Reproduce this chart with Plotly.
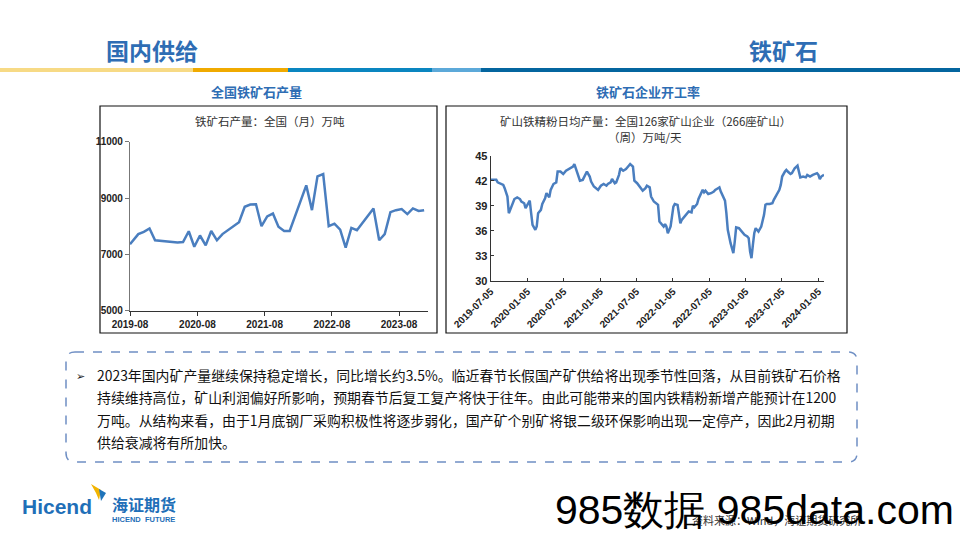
import plotly.graph_objects as go
import pandas as pd

W, H = 960, 540
def px(x): return x / W
def py(y): return 1 - y / H

# ---------------- data: left chart (monthly iron ore output, 万吨) ----------------
prod_dates = ["2019-08-01", "2019-09-15", "2019-10-15", "2019-11-15", "2019-12-15",
              "2020-03-15", "2020-04-15", "2020-05-15", "2020-06-15", "2020-07-15",
              "2020-08-15", "2020-09-15", "2020-10-15", "2020-11-15", "2020-12-15",
              "2021-03-15", "2021-04-15", "2021-05-15", "2021-06-15", "2021-07-15",
              "2021-08-15", "2021-09-15", "2021-10-15", "2021-11-15", "2021-12-15",
              "2022-03-15", "2022-04-15", "2022-05-15", "2022-06-15", "2022-07-15",
              "2022-08-15", "2022-09-15", "2022-10-15", "2022-11-15", "2022-12-15",
              "2023-03-15", "2023-04-15", "2023-05-15", "2023-06-15", "2023-07-15",
              "2023-08-15", "2023-09-15", "2023-10-15", "2023-11-15", "2023-12-15"]
prod_values = [7360, 7720, 7800, 7920, 7500,
               7450, 7420, 7440, 7820, 7270,
               7670, 7320, 7830, 7500, 7720,
               8140, 8690, 8770, 8780, 8000,
               8350, 8450, 7980, 7830, 7830,
               9450, 8570, 9770, 9850, 8000,
               8090, 7880, 7240, 7940, 7860,
               8630, 7500, 7720, 8500, 8570,
               8610, 8430, 8630, 8540, 8570]
prod_tickvals = ["2019-08-01", "2020-08-01", "2021-08-01", "2022-08-01", "2023-08-01"]
prod_ticktext = ["2019-08", "2020-08", "2021-08", "2022-08", "2023-08"]

# ---------------- data: right chart (weekly concentrate output, 万吨/天) ----------------
conc_start = "2019-07-05"
conc_weeks = [0, 3, 4, 5, 7, 9, 10, 12, 13, 15, 16, 17, 19, 21, 22, 24, 25, 27, 28, 29,
              30, 32, 33, 34, 36, 37, 39, 40, 42, 43, 45, 47, 48, 50, 52, 54, 56, 58, 59, 60,
              62, 64, 66, 68, 69, 71, 72, 74, 76, 77, 79, 81, 83, 84, 86, 87, 89, 90, 92, 93,
              95, 97, 99, 100, 102, 103, 105, 107, 109, 111, 112, 114, 115, 117, 119, 120, 121, 123, 124, 125,
              126, 127, 129, 131, 132, 134, 135, 136, 137, 139, 141, 142, 144, 145, 146, 148, 149, 151, 152, 153,
              154, 156, 158, 160, 161, 163, 164, 165, 166, 168, 169, 170, 172, 173, 174, 175, 176, 178, 179, 180,
              182, 184, 185, 186, 187, 188, 189, 190, 191, 192, 194, 195, 196, 197, 198, 200, 202, 203, 205, 207,
              208, 209, 211, 212, 213, 215, 216, 217, 218, 220, 221, 222, 224, 226, 227, 229, 231, 232, 234, 235,
              236, 237, 239]
conc_values = [42.1, 42.1, 42.1, 41.8, 41.6, 41.5, 41.1, 40.1, 38.1, 38.9, 39.5, 39.8, 40.0, 39.8, 39.5, 39.3, 38.7, 39.3, 39.6, 38.1,
               36.7, 36.1, 36.5, 38.1, 38.5, 39.2, 39.9, 40.5, 40.0, 40.9, 41.6, 41.8, 43.1, 43.1, 42.8, 43.2, 43.4, 43.5, 43.7, 44.0,
               43.1, 42.0, 42.1, 42.7, 43.1, 42.5, 41.9, 41.3, 41.0, 40.9, 41.4, 41.6, 41.4, 41.6, 41.8, 42.2, 41.7, 41.8, 42.7, 43.5,
               43.2, 43.4, 43.8, 44.0, 43.7, 42.0, 41.7, 41.3, 40.8, 41.1, 41.4, 41.2, 40.1, 39.5, 39.3, 39.1, 37.1, 36.7, 36.5, 36.8,
               36.5, 35.7, 36.5, 38.9, 39.2, 39.1, 37.7, 36.9, 37.3, 37.7, 38.1, 38.3, 38.2, 39.0, 38.8, 39.2, 39.8, 40.7, 40.9, 40.6,
               40.8, 40.4, 40.5, 40.7, 40.9, 41.1, 41.2, 40.7, 40.3, 39.6, 38.1, 36.1, 34.5, 33.7, 33.3, 34.7, 36.4, 36.3, 36.1, 35.8,
               35.5, 35.3, 35.1, 33.5, 32.7, 34.3, 35.7, 36.3, 36.1, 35.9, 36.5, 37.1, 37.9, 39.1, 39.2, 39.2, 39.3, 39.7, 40.3, 40.9,
               41.5, 42.5, 43.1, 43.3, 43.1, 42.8, 42.9, 43.2, 43.5, 43.8, 42.9, 42.4, 42.5, 42.4, 42.7, 42.5, 42.7, 42.8, 42.9, 42.7,
               42.2, 42.5, 42.7]
conc_dates = [pd.Timestamp(conc_start) + pd.Timedelta(weeks=w) for w in conc_weeks]
conc_tickvals = ["2019-07-05", "2020-01-05", "2020-07-05", "2021-01-05", "2021-07-05",
                 "2022-01-05", "2022-07-05", "2023-01-05", "2023-07-05", "2024-01-05"]

# ---------------- text ----------------
header_left = "国内供给"
header_right = "铁矿石"
sub_left = "全国铁矿石产量"
sub_right = "铁矿石企业开工率"
chart_left_title = "铁矿石产量：全国（月）万吨"
chart_right_title = ["矿山铁精粉日均产量：全国126家矿山企业（266座矿山）", "（周）万吨/天"]
body_lines = [
    "2023年国内矿产量继续保持稳定增长，同比增长约3.5%。临近春节长假国产矿供给将出现季节性回落，从目前铁矿石价格",
    "持续维持高位，矿山利润偏好所影响，预期春节后复工复产将快于往年。由此可能带来的国内铁精粉新增产能预计在1200",
    "万吨。从结构来看，由于1月底钢厂采购积极性将逐步弱化，国产矿个别矿将银二级环保影响出现一定停产，因此2月初期",
    "供给衰减将有所加快。",
]
source_text = "资料来源：Wind，海证期货研究所"
watermark = "985数据 985data.com"

LINE = "#4A7EBF"
BLUE_T = "#2E6DB4"
CJK = "Noto Sans CJK SC"
NUM = "Liberation Sans, Arial, sans-serif"

fig = go.Figure()
fig.add_trace(go.Scatter(x=prod_dates, y=prod_values, mode="lines",
                         line=dict(color=LINE, width=2.5), xaxis="x", yaxis="y",
                         showlegend=False, hoverinfo="skip"))
fig.add_trace(go.Scatter(x=conc_dates, y=conc_values, mode="lines",
                         line=dict(color=LINE, width=2.5), xaxis="x2", yaxis="y2",
                         showlegend=False, hoverinfo="skip"))

bold10 = dict(family=NUM, size=10, color="#222", weight="bold")
fig.update_layout(
    width=W, height=H, margin=dict(l=0, r=0, t=0, b=0, pad=0), autosize=False,
    paper_bgcolor="white", plot_bgcolor="rgba(0,0,0,0)",
    xaxis=dict(domain=[px(130), px(428)], type="date", range=["2019-08-01", "2024-01-05"],
               tickvals=prod_tickvals, ticktext=prod_ticktext, ticks="outside", ticklen=4,
               tickcolor="#333", showline=True, linecolor="#333", linewidth=1.2,
               showgrid=False, zeroline=False, tickfont=bold10, automargin=False, anchor="y"),
    yaxis=dict(domain=[py(310.7), py(141.7)], range=[5000, 11000], tickvals=[5000, 7000, 9000, 11000],
               tickformat="d", ticks="outside", ticklen=4, tickcolor="#777", showline=True, linecolor="#777",
               linewidth=1.2, showgrid=False, zeroline=False, tickfont=bold10, automargin=False, anchor="x"),
    xaxis2=dict(domain=[px(490.7), px(824)], type="date", range=["2019-07-05", "2024-02-02"],
                tickvals=conc_tickvals, tickformat="%Y-%m-%d", tickangle=-45, ticks="inside", ticklen=3,
                tickcolor="#333", showline=True, linecolor="#333", linewidth=1.2,
                showgrid=False, zeroline=False, tickfont=bold10, automargin=False, anchor="y2"),
    yaxis2=dict(domain=[py(280.7), py(155.7)], range=[30, 45], tickvals=[30, 33, 36, 39, 42, 45],
                ticks="inside", ticklen=3, tickcolor="#333", showline=True, linecolor="#333", linewidth=1.2,
                showgrid=False, zeroline=False, tickfont=dict(family=NUM, size=11, color="#222", weight="bold"),
                automargin=False, anchor="x2"),
)

shapes = []
# header color bar
for x0, x1, c in [(0, 193, "#F7DA85"), (193, 288, "#F0AA00"), (288, 432, "#0A86C0"),
                  (432, 481, "#5CA9D9"), (481, 960, "#04659F")]:
    shapes.append(dict(type="rect", xref="paper", yref="paper", x0=px(x0), x1=px(x1),
                       y0=py(72), y1=py(68), fillcolor=c, line=dict(width=0), layer="below"))
# chart frames
for x0, x1 in [(100, 437), (446, 847)]:
    shapes.append(dict(type="rect", xref="paper", yref="paper", x0=px(x0), x1=px(x1),
                       y0=py(333), y1=py(106), line=dict(color="#111", width=1.2), layer="below"))
# dashed rounded box
bx0, bx1, by0, by1, r = 66, 857, 352, 462, 9
path = (f"M {px(bx0 + r)},{py(by0)} L {px(bx1 - r)},{py(by0)} Q {px(bx1)},{py(by0)} {px(bx1)},{py(by0 + r)} "
        f"L {px(bx1)},{py(by1 - r)} Q {px(bx1)},{py(by1)} {px(bx1 - r)},{py(by1)} "
        f"L {px(bx0 + r)},{py(by1)} Q {px(bx0)},{py(by1)} {px(bx0)},{py(by1 - r)} "
        f"L {px(bx0)},{py(by0 + r)} Q {px(bx0)},{py(by0)} {px(bx0 + r)},{py(by0)} Z")
shapes.append(dict(type="path", xref="paper", yref="paper", path=path,
                   line=dict(color="#6F8FC4", width=1.5, dash="dash")))
# logo swoosh
shapes.append(dict(type="path", xref="paper", yref="paper",
                   path=f"M {px(91)},{py(484)} L {px(101)},{py(490)} L {px(99)},{py(500)} L {px(96)},{py(493)} Z",
                   fillcolor="#F2B400", line=dict(width=0)))
shapes.append(dict(type="path", xref="paper", yref="paper",
                   path=f"M {px(99)},{py(489)} L {px(106)},{py(493)} L {px(101)},{py(501)} Z",
                   fillcolor="#1F74BA", line=dict(width=0)))
fig.update_layout(shapes=shapes)

ann = []
def T(text, x, y, size, color="#222", family=CJK, xanchor="center", weight="normal", yanchor="middle"):
    ann.append(dict(text=text, x=px(x), y=py(y), xref="paper", yref="paper", showarrow=False,
                    xanchor=xanchor, yanchor=yanchor,
                    font=dict(family=family, size=size, color=color, weight=weight)))

T(header_left, 152, 50, 23, BLUE_T, weight="bold")
T(header_right, 783, 50, 23, BLUE_T, weight="bold")
T(sub_left, 256, 91, 13, BLUE_T, weight="bold")
T(sub_right, 648, 91, 13, BLUE_T, weight="bold")
T(chart_left_title, 270, 121, 11.5, "#333")
T(chart_right_title[0], 645, 121, 11.5, "#333")
T(chart_right_title[1], 645, 137, 11.5, "#333")
T("➢", 80, 375, 11, "#222")
for i, line in enumerate(body_lines):
    T(line, 95, 375 + i * 22.3, 13.9, "#111", xanchor="left")
# logo
T("Hicend", 20, 506, 21, "#1F6FB8", family="Liberation Sans, Arial", xanchor="left", weight="bold")
T("海证期货", 110, 504, 16, "#1F6FB8", xanchor="left", weight="bold")
T("HICEND  FUTURE", 110, 519, 7.5, "#1F6FB8", family="Liberation Sans, Arial", xanchor="left", weight="bold")
# source + watermark
T(source_text, 690, 520, 11, "#333", xanchor="left")
T(watermark, 553, 510, 41, "#000", family="Liberation Sans, Arial", xanchor="left")
fig.update_layout(annotations=ann)

fig.write_html("out.html", config={"responsive": False, "displayModeBar": False},
               post_script="document.body.style.margin='0';document.body.style.overflow='hidden';")
